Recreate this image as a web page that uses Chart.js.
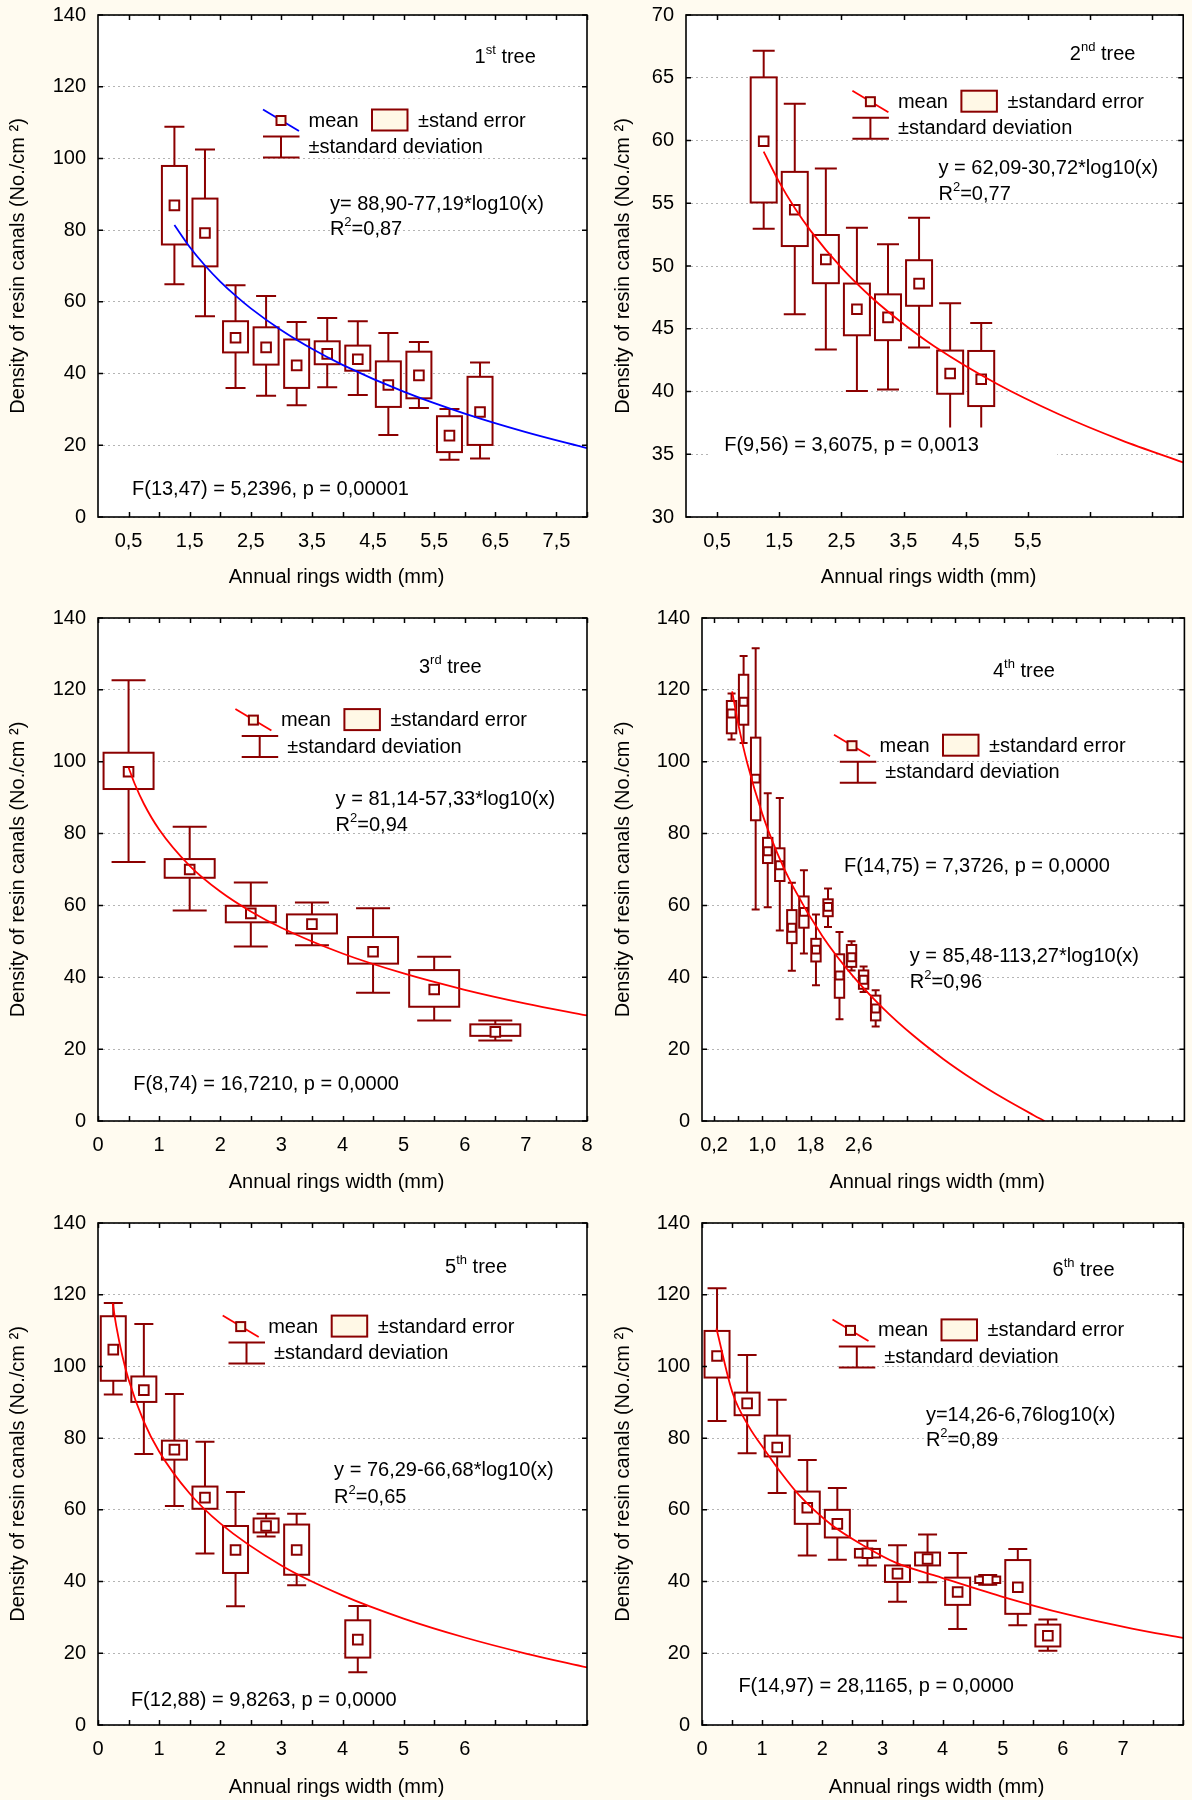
<!DOCTYPE html>
<html><head><meta charset="utf-8">
<script src="https://cdn.jsdelivr.net/npm/chart.js@4.4.1/dist/chart.umd.min.js"></script>
<style>
html,body{margin:0;padding:0;background:#FFFBF0;}
#wrap{position:relative;width:1192px;height:1800px;background:#FFFBF0;}
.cell{position:absolute;width:596px;height:600px;}
.cell canvas{display:block;}
</style></head>
<body><div id="wrap">
<div class="cell" style="left:0;top:0"><canvas id="c1" width="596" height="600"></canvas></div>
<div class="cell" style="left:596px;top:0"><canvas id="c2" width="596" height="600"></canvas></div>
<div class="cell" style="left:0;top:600px"><canvas id="c3" width="596" height="600"></canvas></div>
<div class="cell" style="left:596px;top:600px"><canvas id="c4" width="596" height="600"></canvas></div>
<div class="cell" style="left:0;top:1200px"><canvas id="c5" width="596" height="600"></canvas></div>
<div class="cell" style="left:596px;top:1200px"><canvas id="c6" width="596" height="600"></canvas></div>
</div>
<script>
// ---------- DATA ----------
// Tree 1
const t1X    = [1.25,1.75,2.25,2.75,3.25,3.75,4.25,4.75,5.25,5.75,6.25];
const t1Mean = [86.9,79.2,50.0,47.3,42.3,45.5,44.0,36.8,39.5,22.7,29.3];
const t1SeHi = [97.9,88.8,54.6,52.9,49.5,49.0,47.8,43.4,46.1,28.1,39.1];
const t1SeLo = [76.0,69.9,45.9,42.5,36.0,42.6,40.8,30.7,33.1,18.1,20.1];
const t1SdHi = [108.8,102.5,64.6,61.6,54.4,55.5,54.6,51.3,48.8,30.1,43.1];
const t1SdLo = [64.9,56.0,36.0,33.8,31.2,36.2,34.0,22.9,30.4,16.0,16.3];
const t1CurveX = [1.25,1.5,1.75,2,2.25,2.5,3,3.5,4,5,6,7,8];
const t1CurveY = [81.42,75.31,70.14,65.66,61.72,58.18,52.07,46.90,42.43,34.95,28.83,23.67,19.19];
const t1XTicks = [0.5,1.5,2.5,3.5,4.5,5.5,6.5,7.5];
const t1XTickLabels = ['0,5','1,5','2,5','3,5','4,5','5,5','6,5','7,5'];

// Tree 2
const t2X    = [1.25,1.75,2.25,2.75,3.25,3.75,4.25,4.75];
const t2Mean = [59.94,54.48,50.52,46.55,45.91,48.6,41.43,40.98];
const t2SeHi = [65.03,57.5,52.47,48.6,47.74,50.46,43.26,43.23];
const t2SeLo = [55.06,51.59,48.63,44.48,44.09,46.83,39.82,38.84];
const t2SdHi = [67.16,62.93,57.77,53.05,51.74,53.84,47.04,45.46];
const t2SdLo = [52.96,46.16,43.35,40.03,40.15,43.5,36.5,36.5];
const t2CurveX = [1.25,1.5,1.75,2,2.5,3,3.5,4,5,6,7,8];
const t2CurveY = [59.11,56.68,54.62,52.84,49.87,47.43,45.38,43.59,40.62,38.19,36.13,34.35];
const t2XTicks = [0.5,1.5,2.5,3.5,4.5,5.5];
const t2XTickLabels = ['0,5','1,5','2,5','3,5','4,5','5,5'];

// Tree 3
const t3X    = [0.5,1.5,2.5,3.5,4.5,5.5,6.5];
const t3Mean = [97.2,70.0,57.8,54.8,47.1,36.6,24.8];
const t3SeHi = [102.5,72.9,59.9,57.5,51.2,42.0,26.9];
const t3SeLo = [92.4,67.7,55.3,52.2,43.8,31.8,23.7];
const t3SdHi = [122.7,81.9,66.4,60.8,59.2,45.7,28.0];
const t3SdLo = [72.1,58.6,48.6,48.9,35.7,28.0,22.4];
const t3CurveX = [0.5,0.6,0.75,1,1.5,2,2.5,3,4,5,6,7,8];
const t3CurveY = [98.40,93.86,88.30,81.14,71.04,63.88,58.33,53.79,46.62,41.07,36.53,32.69,29.37];
const t3XTicks = [0,1,2,3,4,5,6,7,8];
const t3XTickLabels = ['0','1','2','3','4','5','6','7','8'];

// Tree 4
const t4X    = [0.49,0.69,0.89,1.09,1.29,1.49,1.69,1.89,2.09,2.28,2.48,2.68,2.88];
const t4Mean = [113.4,116.7,95.3,75.1,71.2,53.8,58.2,47.7,59.6,40.5,45.6,39.3,31.3];
const t4SeHi = [116.9,124.2,106.7,78.8,75.9,58.7,62.5,50.7,61.7,46.4,49.0,41.9,34.9];
const t4SeLo = [107.9,110.3,83.7,71.8,66.8,49.5,53.8,44.4,57.0,34.3,42.9,36.8,28.0];
const t4SdHi = [119.0,129.4,131.6,91.2,89.9,66.3,69.8,57.5,64.7,52.6,50.0,43.0,36.4];
const t4SdLo = [106.2,105.2,58.9,59.5,53.0,41.8,46.6,37.8,54.0,28.3,41.9,35.9,26.3];
const t4CurveX = [0.5,0.6,0.75,1,1.25,1.5,2,2.5,3,3.5,4,4.5,5,5.5,5.68];
const t4CurveY = [119.58,110.61,99.63,85.48,74.50,65.53,51.38,40.41,31.44,23.85,17.28,11.49,6.31,1.62,0];
const t4XTicks = [0.2,1.0,1.8,2.6];
const t4XTickLabels = ['0,2','1,0','1,8','2,6'];

// Tree 5
const t5X    = [0.25,0.75,1.25,1.75,2.25,2.75,3.25,4.25];
const t5Mean = [104.7,93.4,76.8,63.4,48.8,55.5,48.8,23.8];
const t5SeHi = [114.0,97.2,79.3,66.5,55.5,57.6,55.9,29.2];
const t5SeLo = [96.0,90.1,74.0,60.3,42.4,53.7,41.9,18.8];
const t5SdHi = [117.7,111.8,92.3,79.0,65.0,58.9,58.9,33.2];
const t5SdLo = [92.2,75.6,61.1,47.8,33.1,52.6,39.0,14.7];
const t5CurveX = [0.24,0.3,0.4,0.5,0.75,1,1.5,2,3,4,5,6,7,8];
const t5CurveY = [117.62,111.16,102.82,96.36,84.62,76.29,64.55,56.22,44.48,36.14,29.68,24.40,19.94,16.07];
const t5XTicks = [0,1,2,3,4,5,6];
const t5XTickLabels = ['0','1','2','3','4','5','6'];

// Tree 6
const t6X    = [0.25,0.75,1.25,1.75,2.25,2.75,3.25,3.75,4.25,4.75,5.25,5.75];
const t6Mean = [102.9,89.7,77.4,60.6,56.1,47.9,42.2,46.3,37.1,40.5,38.4,24.9];
const t6SeHi = [109.9,92.7,80.7,65.1,60.0,49.1,44.5,48.1,41.1,41.4,46.0,28.0];
const t6SeLo = [96.9,86.4,74.9,56.1,52.3,46.7,39.9,44.5,33.5,39.6,31.0,21.9];
const t6SdHi = [121.8,103.2,90.7,73.9,66.1,51.4,50.1,53.1,48.0,41.8,49.1,29.4];
const t6SdLo = [84.8,75.8,64.7,47.3,46.1,44.5,34.4,39.8,26.8,39.1,27.8,20.7];
const t6CurveX = [0.24,0.51,0.78,1.06,1.33,1.60,2.14,2.69,3.23,3.89,4.97,6.06,7.15,8.0];
const t6CurveY = [110.6,92.5,83.2,76.3,70.0,64.4,56.0,50.0,45.2,41.6,35.9,30.9,26.9,24.3];
const t6XTicks = [0,1,2,3,4,5,6,7];
const t6XTickLabels = ['0','1','2','3','4','5','6','7'];

// Text labels
const treeNums  = ['1','2','3','4','5','6'];
const treeSups  = ['st','nd','rd','th','th','th'];
const equations = ['y= 88,90-77,19*log10(x)','y = 62,09-30,72*log10(x)','y = 81,14-57,33*log10(x)',
                   'y = 85,48-113,27*log10(x)','y = 76,29-66,68*log10(x)','y=14,26-6,76log10(x)'];
const r2Values  = ['=0,87','=0,77','=0,94','=0,96','=0,65','=0,89'];
const fStats    = ['F(13,47) = 5,2396, p = 0,00001','F(9,56) = 3,6075, p = 0,0013','F(8,74) = 16,7210, p = 0,0000',
                   'F(14,75) = 7,3726, p = 0,0000','F(12,88) = 9,8263, p = 0,0000','F(14,97) = 28,1165, p = 0,0000'];
const seLabels  = ['±stand error','±standard error','±standard error','±standard error','±standard error','±standard error'];
const xTitle = 'Annual rings width (mm)';
const yTitle = 'Density of resin canals (No./cm ²)';

// ---------- STYLE / LAYOUT ----------
const FONT = 'Arial, "Liberation Sans", Helvetica, sans-serif';
const DARK = '#8B0000';
const CREAM = '#FFF8E6';
Chart.defaults.font.family = FONT;
Chart.defaults.font.size = 20;
Chart.defaults.color = '#000';

const panels = [
 {id:'c1', x:t1X, mean:t1Mean, seHi:t1SeHi, seLo:t1SeLo, sdHi:t1SdHi, sdLo:t1SdLo, cx:t1CurveX, cy:t1CurveY,
  xt:t1XTicks, xl:t1XTickLabels, color:'#0000FF', yMin:0, yMax:140, yStep:20,
  area:{l:98,t:15,r:587,b:517}, yTitlePad:6.5, xTitleY:577, boxHalf:12.5, capHalf:10, markR:6.8,
  minor:{start:0.5, step:0.5},
  legend:{x:263, y:109.5, sd:0}, tree:[474.6,57.4], eq:[329.9,204.7], r2:[329.9,229.6], f:[132,489.9], fbg:null},
 {id:'c2', x:t2X, mean:t2Mean, seHi:t2SeHi, seLo:t2SeLo, sdHi:t2SdHi, sdLo:t2SdLo, cx:t2CurveX, cy:t2CurveY,
  xt:t2XTicks, xl:t2XTickLabels, color:'#FF0000', yMin:30, yMax:70, yStep:5,
  area:{l:90,t:15,r:595,b:517}, yTitlePad:15.6, xTitleY:577, boxHalf:13, capHalf:11, markR:6.8,
  minor:{start:0.5, step:1},
  legend:{x:256.4, y:90.7, sd:0}, tree:[473.8,54.3], eq:[342.5,168.4], r2:[342.5,194.4], f:[128.2,445.1], fbg:[114.8,427.5,346.4,35.5]},
 {id:'c3', x:t3X, mean:t3Mean, seHi:t3SeHi, seLo:t3SeLo, sdHi:t3SdHi, sdLo:t3SdLo, cx:t3CurveX, cy:t3CurveY,
  xt:t3XTicks, xl:t3XTickLabels, color:'#FF0000', yMin:0, yMax:140, yStep:20,
  area:{l:98,t:18,r:587,b:521}, yTitlePad:6.4, xTitleY:582.5, boxHalf:25, capHalf:17, markR:6.8,
  minor:{start:0, step:0.5},
  legend:{x:235.4, y:109.1, sd:6.3}, tree:[419,67.7], eq:[335.6,199.8], r2:[335.6,225.8], f:[133.2,484.1], fbg:null},
 {id:'c4', x:t4X, mean:t4Mean, seHi:t4SeHi, seLo:t4SeLo, sdHi:t4SdHi, sdLo:t4SdLo, cx:t4CurveX, cy:t4CurveY,
  xt:t4XTicks, xl:t4XTickLabels, color:'#FF0000', yMin:0, yMax:140, yStep:20,
  area:{l:106,t:18,r:595,b:521}, yTitlePad:15.6, xTitleY:582.5, boxHalf:4.7, capHalf:4, markR:5.6,
  minor:{start:0.2, step:0.4},
  legend:{x:238, y:134.7, sd:5.8}, tree:[396.9,71.6], eq:[313.8,356.7], r2:[313.8,382.7], f:[248,266], fbg:null},
 {id:'c5', x:t5X, mean:t5Mean, seHi:t5SeHi, seLo:t5SeLo, sdHi:t5SdHi, sdLo:t5SdLo, cx:t5CurveX, cy:t5CurveY,
  xt:t5XTicks, xl:t5XTickLabels, color:'#FF0000', yMin:0, yMax:140, yStep:20,
  area:{l:98,t:23,r:587,b:525}, yTitlePad:6.4, xTitleY:587, boxHalf:12.5, capHalf:9.5, markR:6.8,
  minor:{start:0, step:0.5},
  legend:{x:222.7, y:115.6, sd:5.8}, tree:[445.1,67.7], eq:[334.1,270.6], r2:[334.1,297.4], f:[130.9,500.2], fbg:null},
 {id:'c6', x:t6X, mean:t6Mean, seHi:t6SeHi, seLo:t6SeLo, sdHi:t6SdHi, sdLo:t6SdLo, cx:t6CurveX, cy:t6CurveY,
  xt:t6XTicks, xl:t6XTickLabels, color:'#FF0000', yMin:0, yMax:140, yStep:20,
  area:{l:106,t:23,r:595,b:525}, yTitlePad:15.6, xTitleY:587, boxHalf:12.5, capHalf:9.5, markR:6.8,
  minor:{start:0, step:0.5},
  legend:{x:236.5, y:119.4, sd:6.3}, tree:[456.6,70.4], eq:[329.9,215.1], r2:[329.9,240.3], f:[142.4,486], fbg:null}
];

function rich(ctx, x, y, parts){
  ctx.textAlign = 'left'; ctx.textBaseline = 'middle'; ctx.fillStyle = '#000';
  let cx = x;
  for (const [txt, sup] of parts){
    ctx.font = (sup ? '13px ' : '20px ') + FONT;
    ctx.fillText(txt, cx, sup ? y - 7 : y);
    cx += ctx.measureText(txt).width;
  }
}

function makePlugin(p, idx){
  return {
    id: 'panelDraw',
    beforeDraw(chart){
      const {ctx, chartArea:a} = chart;
      ctx.save(); ctx.fillStyle = '#FFFFFF';
      ctx.fillRect(a.left, a.top, a.right - a.left, a.bottom - a.top);
      ctx.restore();
    },
    beforeDatasetsDraw(chart){
      const {ctx, chartArea:a, scales:{x:xs, y:ys}} = chart;
      ctx.save();
      ctx.beginPath(); ctx.rect(a.left, a.top, a.right - a.left, a.bottom - a.top); ctx.clip();
      ctx.strokeStyle = DARK; ctx.lineWidth = 2;
      for (let i = 0; i < p.x.length; i++){
        const px = xs.getPixelForValue(p.x[i]);
        const yHi = ys.getPixelForValue(p.sdHi[i]), yLo = ys.getPixelForValue(p.sdLo[i]);
        ctx.beginPath();
        ctx.moveTo(px, yHi); ctx.lineTo(px, yLo);
        ctx.moveTo(px - p.capHalf, yHi); ctx.lineTo(px + p.capHalf, yHi);
        ctx.moveTo(px - p.capHalf, yLo); ctx.lineTo(px + p.capHalf, yLo);
        ctx.stroke();
        const bt = ys.getPixelForValue(p.seHi[i]), bb = ys.getPixelForValue(p.seLo[i]);
        ctx.fillStyle = '#FFFFFF';
        ctx.fillRect(px - p.boxHalf, bt, 2 * p.boxHalf, bb - bt);
        ctx.strokeRect(px - p.boxHalf, bt, 2 * p.boxHalf, bb - bt);
      }
      ctx.restore();
    },
    afterDatasetsDraw(chart){
      const {ctx, chartArea:a, scales:{x:xs, y:ys}} = chart;
      ctx.save();
      // inward tick marks
      ctx.strokeStyle = '#000'; ctx.lineWidth = 1.5;
      ctx.beginPath();
      for (let v = p.minor.start; v <= xs.max + 1e-9; v += p.minor.step){
        const px = Math.round(xs.getPixelForValue(v)) + 0.5;
        ctx.moveTo(px, a.bottom); ctx.lineTo(px, a.bottom - 5);
        ctx.moveTo(px, a.top); ctx.lineTo(px, a.top + 5);
      }
      for (let v = p.yMin; v <= p.yMax + 1e-9; v += p.yStep){
        const py = ys.getPixelForValue(v);
        ctx.moveTo(a.left, py); ctx.lineTo(a.left + 5, py);
        ctx.moveTo(a.right, py); ctx.lineTo(a.right - 5, py);
      }
      ctx.stroke();
      // border
      ctx.lineWidth = 1.6;
      ctx.strokeRect(a.left, a.top, a.right - a.left, a.bottom - a.top);

      // x-axis title
      ctx.font = '20px ' + FONT; ctx.fillStyle = '#000';
      ctx.textAlign = 'center'; ctx.textBaseline = 'middle';
      ctx.fillText(xTitle, (a.left + a.right) / 2 - 6, p.xTitleY);

      // legend
      const L = p.legend, lx = L.x, ly = L.y;
      ctx.strokeStyle = p.color; ctx.lineWidth = 1.8;
      ctx.beginPath(); ctx.moveTo(lx, ly); ctx.lineTo(lx + 36, ly + 21.5); ctx.stroke();
      ctx.strokeStyle = DARK; ctx.lineWidth = 2; ctx.fillStyle = CREAM;
      ctx.fillRect(lx + 13.5, ly + 6.5, 9, 9); ctx.strokeRect(lx + 13.5, ly + 6.5, 9, 9);
      ctx.fillRect(lx + 109, ly, 35.5, 21); ctx.strokeRect(lx + 109, ly, 35.5, 21);
      ctx.beginPath();
      ctx.moveTo(lx + L.sd, ly + 27); ctx.lineTo(lx + L.sd + 36.5, ly + 27);
      ctx.moveTo(lx + L.sd, ly + 48); ctx.lineTo(lx + L.sd + 36.5, ly + 48);
      ctx.moveTo(lx + L.sd + 18, ly + 27); ctx.lineTo(lx + L.sd + 18, ly + 48);
      ctx.stroke();
      rich(ctx, lx + 45.5, ly + 11.5, [['mean', false]]);
      rich(ctx, lx + 155, ly + 11.5, [[seLabels[idx], false]]);
      rich(ctx, lx + L.sd + 45.5, ly + 38, [['±standard deviation', false]]);

      // tree label, equation, R2, F statistic
      rich(ctx, p.tree[0], p.tree[1], [[treeNums[idx], false], [treeSups[idx], true], [' tree', false]]);
      rich(ctx, p.eq[0], p.eq[1], [[equations[idx], false]]);
      rich(ctx, p.r2[0], p.r2[1], [['R', false], ['2', true], [r2Values[idx], false]]);
      if (p.fbg){ ctx.fillStyle = '#FFFFFF'; ctx.fillRect(p.fbg[0], p.fbg[1], p.fbg[2], p.fbg[3]); }
      rich(ctx, p.f[0], p.f[1], [[fStats[idx], false]]);
      ctx.restore();
    }
  };
}

panels.forEach((p, idx) => {
  const meanPts = p.x.map((v, i) => ({x: v, y: p.mean[i]}));
  const curvePts = p.cx.map((v, i) => ({x: v, y: p.cy[i]}));
  new Chart(document.getElementById(p.id), {
    type: 'scatter',
    data: { datasets: [
      { label: 'fit', data: curvePts, showLine: true, borderColor: p.color, borderWidth: 1.8,
        pointRadius: 0, cubicInterpolationMode: 'monotone', fill: false, order: 0 },
      { label: 'mean', data: meanPts, showLine: false, pointStyle: 'rect', pointRadius: p.markR,
        pointBorderWidth: 2, pointBorderColor: DARK, pointBackgroundColor: '#FFFFFF', order: 1 }
    ]},
    options: {
      responsive: false, animation: false, devicePixelRatio: 1,
      layout: { padding: { left: 0, top: p.area.t, right: 596 - p.area.r, bottom: 0 } },
      plugins: { legend: { display: false }, tooltip: { enabled: false } },
      scales: {
        x: { type: 'linear', min: 0, max: 8,
          afterBuildTicks: s => { s.ticks = p.xt.map(v => ({value: v})); },
          afterFit: s => { s.height = 600 - p.area.b; s.paddingLeft = 0; s.paddingRight = 0; },
          ticks: { autoSkip: false, maxRotation: 0, minRotation: 0, padding: 12, color: '#000',
                   font: { size: 20 }, callback: (v, i) => p.xl[i] },
          grid: { display: false, drawTicks: false },
          border: { display: false },
          title: { display: false, text: xTitle } },
        y: { type: 'linear', min: p.yMin, max: p.yMax,
          afterFit: s => { s.width = p.area.l; s.paddingTop = 0; s.paddingBottom = 0; },
          ticks: { stepSize: p.yStep, padding: 12, color: '#000', font: { size: 20 } },
          grid: { color: '#B4B4B4', lineWidth: 1, drawTicks: false },
          border: { display: false, dash: [2, 3] },
          title: { display: true, text: yTitle, color: '#000', font: { size: 20 },
                   padding: { top: p.yTitlePad, bottom: 0 } } }
      }
    },
    plugins: [makePlugin(p, idx)]
  });
});
</script>
</body></html>
